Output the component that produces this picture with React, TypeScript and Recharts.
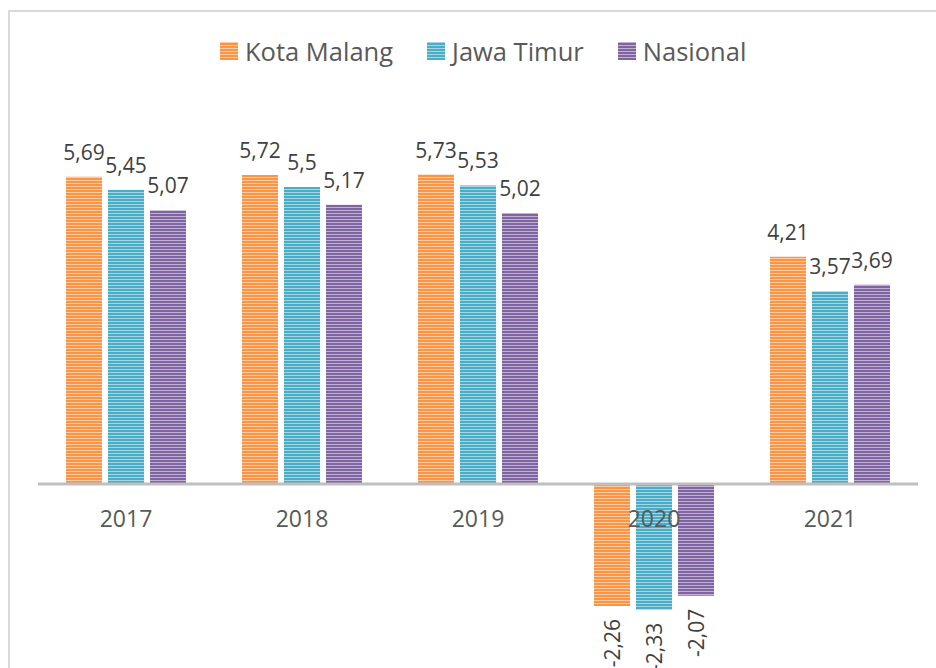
import React from "react";
import { BarChart, Bar, XAxis, YAxis, ReferenceLine, LabelList } from "recharts";

// ---- data ----
const years = ["2017", "2018", "2019", "2020", "2021"];
const kotaMalang = [5.69, 5.72, 5.73, -2.26, 4.21];
const jawaTimur = [5.45, 5.5, 5.53, -2.33, 3.57];
const nasional = [5.07, 5.17, 5.02, -2.07, 3.69];

const seriesNames = ["Kota Malang", "Jawa Timur", "Nasional"];
const seriesKeys = ["kota", "jatim", "nasional"];
const seriesColors = ["#F79646", "#4BACC6", "#8064A2"];

const data = years.map((y, i) => ({
  year: y,
  kota: kotaMalang[i],
  jatim: jawaTimur[i],
  nasional: nasional[i],
}));

// ---- layout ----
const W = 936;
const H = 700;
const Y_MIN = -3;
const Y_MAX = 6.5;
const M_TOP = 133;
const M_LEFT = 38;
const M_RIGHT = 18;
const XAXIS_H = 30;
const M_BOTTOM = 24;
const PLOT_H = H - M_TOP - M_BOTTOM - XAXIS_H;
const ZERO_Y = M_TOP + (PLOT_H * Y_MAX) / (Y_MAX - Y_MIN);
const FONT = "'Open Sans', 'Noto Sans', sans-serif";

const fmt = (v: number) => String(v).replace(".", ",");

const renderLabel = (props: any) => {
  const { x, y, width, height, value } = props;
  const v = Number(value);
  const cx = Number(x) + Number(width) / 2;
  if (v >= 0) {
    const top = Math.min(Number(y), Number(y) + Number(height));
    return (
      <text x={cx} y={top - 17} textAnchor="middle" fill="#404040" fontSize={21} fontFamily={FONT}>
        {fmt(v)}
      </text>
    );
  }
  const bottom = Math.max(Number(y), Number(y) + Number(height));
  const ty = bottom + 13;
  return (
    <text
      x={cx}
      y={ty}
      transform={`rotate(-90, ${cx}, ${ty})`}
      textAnchor="end"
      dominantBaseline="central"
      fill="#404040"
      fontSize={21}
      fontFamily={FONT}
    >
      {fmt(v)}
    </text>
  );
};

const Tick = (props: any) => {
  const { x, payload } = props;
  return (
    <text x={x} y={ZERO_Y + 43} textAnchor="middle" fill="#595959" fontSize={23} fontFamily={FONT}>
      {payload.value}
    </text>
  );
};

const StripeIcon = ({ color }: { color: string }) => (
  <svg width={18} height={18} style={{ display: "block" }}>
    <rect x={0} y={0} width={18} height={18} fill={color} />
    {[0, 3, 6, 9, 12, 15].map((yy) => (
      <rect key={yy} x={0} y={yy} width={18} height={1} fill="#ffffff" opacity={0.5} />
    ))}
  </svg>
);

const LegendBox = () => (
  <div
    style={{
      position: "absolute",
      left: 220,
      top: 37,
      display: "flex",
      alignItems: "center",
      fontFamily: FONT,
      fontSize: 25.5,
      color: "#595959",
      lineHeight: "28px",
      whiteSpace: "nowrap",
    }}
  >
    {seriesNames.map((n, i) => (
      <div
        key={n}
        style={{ display: "flex", alignItems: "center", marginRight: i < seriesNames.length - 1 ? 34 : 0 }}
      >
        <StripeIcon color={seriesColors[i]} />
        <span style={{ marginLeft: 7 }}>{n}</span>
      </div>
    ))}
  </div>
);

export default function App() {
  return (
    <div
      style={{
        position: "absolute",
        left: 0,
        top: 0,
        width: W,
        height: 668,
        overflow: "hidden",
        background: "#ffffff",
      }}
    >
      <div
        style={{
          position: "absolute",
          left: 8,
          top: 10,
          width: 1000,
          height: 1000,
          borderLeft: "2px solid #d9d9d9",
          borderTop: "2px solid #d9d9d9",
        }}
      />
      <LegendBox />
      <div style={{ position: "absolute", left: 0, top: 0 }}>
        <BarChart
          width={W}
          height={H}
          data={data}
          margin={{ top: M_TOP, right: M_RIGHT, left: M_LEFT, bottom: M_BOTTOM }}
          barSize={36}
          barGap={6}
        >
          <defs>
            {seriesKeys.map((k, i) => (
              <pattern key={k} id={`stripe-${k}`} patternUnits="userSpaceOnUse" width={6} height={3}>
                <rect x={0} y={0} width={6} height={3} fill={seriesColors[i]} />
                <rect x={0} y={0} width={6} height={1} fill="#ffffff" opacity={0.5} />
              </pattern>
            ))}
          </defs>
          <XAxis
            dataKey="year"
            axisLine={false}
            tickLine={false}
            height={XAXIS_H}
            tick={<Tick />}
            interval={0}
          />
          <YAxis hide domain={[Y_MIN, Y_MAX]} />
          {seriesKeys.map((k, i) => (
            <Bar key={k} dataKey={k} name={seriesNames[i]} fill={`url(#stripe-${k})`} isAnimationActive={false}>
              <LabelList dataKey={k} content={renderLabel} />
            </Bar>
          ))}
          <ReferenceLine y={0} stroke="#bfbfbf" strokeWidth={3} />
        </BarChart>
      </div>
    </div>
  );
}
